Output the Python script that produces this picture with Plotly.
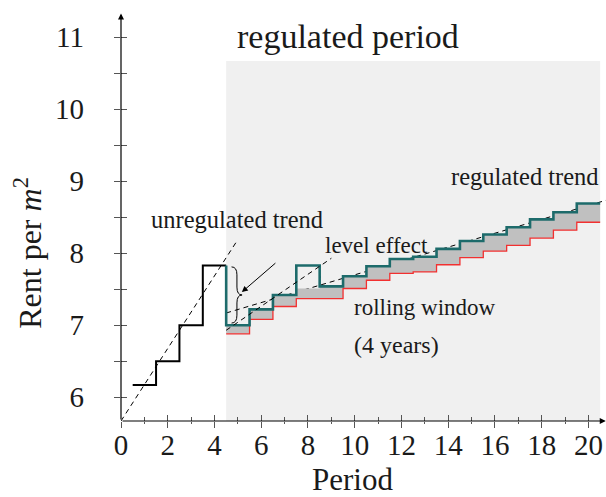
import plotly.graph_objects as go

# pre-regulation rent (periods 1-4)
pre_period=[1,2,3,4]
pre_rent=[6.17,6.5,7.0,7.83]

# regulated period (periods 5-20)
reg_period=list(range(5,21))
rent=[7.0,7.22,7.42,7.83,7.54,7.68,7.82,7.92,7.95,8.06,8.17,8.26,8.36,8.47,8.57,8.69]
band_top=[7.0,7.22,7.42,7.51,7.54,7.68,7.82,7.92,7.95,8.06,8.17,8.26,8.36,8.47,8.57,8.69]
window_rent=[6.88,7.08,7.26,7.37,7.37,7.51,7.625,7.72,7.74,7.84,7.94,8.03,8.11,8.21,8.32,8.43]

# trend lines
unreg_x=[0,5.0]
unreg_y=[5.67,8.19]
level_x=[4.5,9.0]
level_y=[6.93,7.93]
regtrend_x=[4.5,20.8]
regtrend_y=[7.17,8.74]

xmin,xmax=0,20.75
ymin,ymax=5.67,11.35
font='Liberation Serif'
tc='#555'

def steps(per,vals):
    xs=[p-0.5 for p in per]+[per[-1]+0.5]
    ys=list(vals)+[vals[-1]]
    return xs,ys

fig=go.Figure()
# regulated trend sits under the band
fig.add_trace(go.Scatter(x=regtrend_x,y=regtrend_y,mode='lines',
                         line={'color':'black','width':1,'dash':'5px,4px'}))
bx,by=steps(reg_period,band_top)
fig.add_trace(go.Scatter(x=bx,y=by,mode='lines',line={'width':0,'shape':'hv'}))
wx,wy=steps(reg_period,window_rent)
fig.add_trace(go.Scatter(x=wx,y=wy,mode='lines',fill='tonexty',fillcolor='#c0c0c0',
                         line={'color':'#f23030','width':1.3,'shape':'hv'}))
px,py=steps(pre_period,pre_rent)
fig.add_trace(go.Scatter(x=px,y=py,mode='lines',line={'color':'black','width':2,'shape':'hv'}))
rx,ry=steps(reg_period,rent)
fig.add_trace(go.Scatter(x=[rx[0]]+rx,y=[pre_rent[-1]]+ry,mode='lines',
                         line={'color':'#1d6b6b','width':2.6,'shape':'hv'}))
fig.add_trace(go.Scatter(x=unreg_x,y=unreg_y,mode='lines',
                         line={'color':'black','width':1,'dash':'5px,4px'}))
fig.add_trace(go.Scatter(x=level_x,y=level_y,mode='lines',
                         line={'color':'black','width':1,'dash':'5px,4px'}))
# empty traces so the tick-only overlay axes get drawn
fig.add_trace(go.Scatter(x=[None],y=[None],xaxis='x2',yaxis='y2',hoverinfo='skip'))
fig.add_trace(go.Scatter(x=[None],y=[None],xaxis='x3',yaxis='y3',hoverinfo='skip'))

# shaded regulated period
fig.add_shape(type='rect',xref='x',yref='y',x0=4.5,x1=20.5,y0=ymin,y1=10.67,
              fillcolor='#f0f0f0',line_width=0,layer='below')
# brace for the level effect
fig.add_shape(type='path',xref='x',yref='y',
              path='M 4.73,7.81 Q 4.96,7.81 4.96,7.7 L 4.96,7.53 Q 4.96,7.42 5.18,7.42 '
                   'Q 4.96,7.42 4.96,7.31 L 4.96,7.14 Q 4.96,7.03 4.73,7.03',
              line={'color':'black','width':1})

def label(txt,x,y,size=23):
    fig.add_annotation(x=x,y=y,xref='x',yref='y',text=txt,showarrow=False,
                       font={'family':font,'size':size,'color':'#1a1a1a'})

label('regulated period',9.7,11.01,size=34)
label('unregulated trend',4.97,8.47,size=24.5)
label('level effect',10.93,8.11)
label('regulated trend',17.28,9.06,size=24.5)
label('rolling window',13.01,7.25)
label('(4 years)',11.78,6.72,size=24)

# axis titles
fig.add_annotation(x=0.478,y=-0.142,xref='paper',yref='paper',text='Period',showarrow=False,
                   xanchor='center',yanchor='middle',
                   font={'family':font,'size':31,'color':'#1a1a1a'})
fig.add_annotation(x=-0.192,y=0.411,xref='paper',yref='paper',text='Rent per <i>m</i><sup>2</sup>',
                   xanchor='center',yanchor='middle',
                   textangle=-90,showarrow=False,font={'family':font,'size':32,'color':'#1a1a1a'})

# level effect arrow
fig.add_annotation(x=5.17,y=7.46,ax=6.67,ay=7.88,xref='x',yref='y',axref='x',ayref='y',
                   text='',showarrow=True,arrowhead=2,arrowsize=1.2,arrowwidth=1,arrowcolor='black')
# axis arrows
fig.add_annotation(x=0,y=11.33,ax=0,ay=ymin,xref='x',yref='y',axref='x',ayref='y',
                   text='',showarrow=True,arrowhead=2,arrowsize=1,arrowwidth=1.2,arrowcolor='black')
fig.add_annotation(x=20.74,y=ymin,ax=0,ay=ymin,xref='x',yref='y',axref='x',ayref='y',
                   text='',showarrow=True,arrowhead=2,arrowsize=1,arrowwidth=1.2,arrowcolor='black')

plain={'showgrid':False,'zeroline':False,'showline':False,'automargin':False}
fig.update_layout(width=606,height=497,showlegend=False,
                  plot_bgcolor='white',paper_bgcolor='white',
                  margin={'l':121,'r':0,'t':12,'b':76},
                  font={'family':font,'color':'#1a1a1a'},
                  xaxis={**plain,'range':[xmin,xmax],'tickvals':list(range(0,21,2)),'ticks':'',
                         'tickfont_size':29,'ticklabelstandoff':4},
                  yaxis={**plain,'range':[ymin,ymax],'tickvals':list(range(6,12)),'ticks':'',
                         'tickfont_size':29,'ticklabelstandoff':36},
                  xaxis2={**plain,'range':[xmin,xmax],'overlaying':'x','anchor':'y','side':'bottom',
                          'showticklabels':False,'tickvals':list(range(0,21,2)),'ticks':'inside',
                          'ticklen':6,'tickcolor':tc,
                          'minor':{'dtick':1,'ticks':'inside','ticklen':4,'tickcolor':tc}},
                  yaxis2={**plain,'range':[ymin,ymax],'overlaying':'y','anchor':'x','side':'left',
                          'showticklabels':False,'tickvals':list(range(6,12)),'ticks':'inside',
                          'ticklen':6,'tickcolor':tc,
                          'minor':{'dtick':0.5,'ticks':'inside','ticklen':6,'tickcolor':tc}},
                  xaxis3={**plain,'range':[xmin,xmax],'overlaying':'x','anchor':'y','side':'bottom',
                          'showticklabels':False,'tickvals':list(range(0,21,2)),'ticks':'outside',
                          'ticklen':6,'tickcolor':tc,
                          'minor':{'dtick':1,'ticks':'outside','ticklen':2,'tickcolor':tc}},
                  yaxis3={**plain,'range':[ymin,ymax],'overlaying':'y','anchor':'x','side':'left',
                          'showticklabels':False,'tickvals':list(range(6,12)),'ticks':'outside',
                          'ticklen':6,'tickcolor':tc,
                          'minor':{'dtick':0.5,'ticks':'outside','ticklen':6,'tickcolor':tc}})
# drop the page's default body margin so the figure fills the window
fig.write_html('out.html',config={'displayModeBar':False},
               post_script="document.body.style.margin='0px';")
